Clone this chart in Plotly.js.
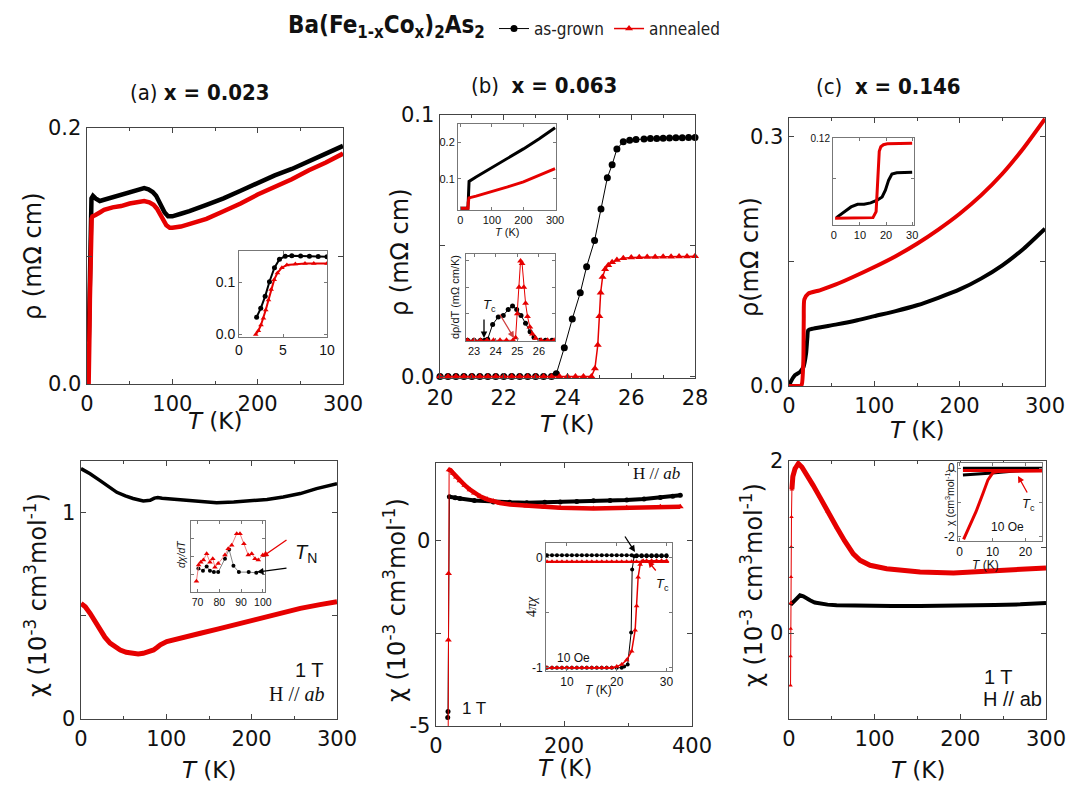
<!DOCTYPE html>
<html><head><meta charset="utf-8">
<script src="https://cdn.plot.ly/plotly-3.0.1.min.js"></script>
<style>html,body{margin:0;padding:0;background:#fff}#chart{width:1079px;height:788px}</style>
</head><body><div id="chart"></div>
<script>
// ---------- DATA ----------
// (a) x=0.023, resistivity
const T_a_rho_ag = [2.0,2.47,2.97,3.46,4.03,4.6,5.25,7,10,15,20,30,40,50,60,67,72,77,81,85,88,91,95,100,110,120,140,160,180,200,220,240,260,280,300];
const rho_a_ag   = [0.033,0.050,0.073,0.101,0.128,0.140,0.145,0.147,0.145,0.143,0.144,0.146,0.148,0.150,0.152,0.153,0.152,0.150,0.147,0.142,0.138,0.134,0.131,0.131,0.133,0.135,0.140,0.145,0.151,0.157,0.163,0.168,0.174,0.180,0.186];
const T_a_rho_an = [1.9,2.2,2.5,2.78,3.04,3.35,3.65,4.0,4.37,4.87,5.44,6.4,8.3,10,15,20,30,40,50,60,67,73,78,82,86,89,93,97,100,110,120,140,160,180,200,220,240,260,280,300];
const rho_a_an   = [0.0,0.007,0.018,0.031,0.047,0.066,0.086,0.105,0.118,0.126,0.129,0.131,0.132,0.132,0.134,0.136,0.138,0.139,0.141,0.142,0.143,0.142,0.140,0.137,0.132,0.128,0.124,0.122,0.122,0.123,0.125,0.129,0.135,0.141,0.148,0.154,0.160,0.167,0.173,0.180];
// (a) inset
const T_a_in_ag = [2.0,2.47,2.97,3.46,4.03,4.6,5.25,6.0,7.0,8.0,9.0,10.0];
const rho_a_in_ag = [0.033,0.050,0.073,0.101,0.128,0.144,0.150,0.151,0.1505,0.150,0.1495,0.149];
const T_a_in_an = [1.9,2.2,2.5,2.78,3.04,3.35,3.65,4.0,4.37,4.87,5.44,6.4,7.5,8.5,10.0];
const rho_a_in_an = [0.0,0.007,0.018,0.031,0.047,0.066,0.086,0.105,0.118,0.128,0.133,0.135,0.136,0.136,0.136];

// (b) x=0.063, resistivity near Tc
const T_b_rho_ag = [20.0,20.25,20.5,20.75,21.0,21.25,21.5,21.75,22.0,22.25,22.5,22.75,23.0,23.25,23.5,23.65,23.9,24.15,24.4,24.6,24.85,25.05,25.25,25.4,25.55,25.75,25.95,26.15,26.4,26.6,26.8,27.0,27.2,27.4,27.6,27.8,28.0];
const rho_b_ag   = [0,0,0,0,0,0,0,0,0,0,0,0,0,0,0,0.001,0.011,0.022,0.032,0.042,0.052,0.064,0.076,0.081,0.087,0.0898,0.0903,0.0906,0.0908,0.091,0.091,0.0911,0.0912,0.0913,0.0913,0.0914,0.0914];
const T_b_rho_an = [20.0,20.25,20.5,20.75,21.0,21.25,21.5,21.75,22.0,22.25,22.5,22.75,23.0,23.25,23.5,23.75,24.0,24.25,24.5,24.75,24.86,24.95,25.0,25.04,25.1,25.18,25.28,25.4,25.55,25.75,26.0,26.25,26.5,26.75,27.0,27.25,27.5,27.75,28.0];
const rho_b_an   = [0,0,0,0,0,0,0,0,0,0,0,0,0,0,0,0,0,0,0,0,0.003,0.012,0.023,0.032,0.038,0.041,0.0425,0.0437,0.0445,0.0452,0.0455,0.0456,0.0457,0.0457,0.0458,0.0458,0.0459,0.0459,0.046];
// (b) inset 1: full range
const T_b_in1_ag = [0,10,20,24,25,26,28,50,100,150,200,250,300];
const rho_b_in1_ag = [0.02,0.02,0.02,0.02,0.03,0.06,0.093,0.105,0.130,0.155,0.182,0.210,0.240];
const T_b_in1_an = [0,10,20,24,24.8,25.2,26,28,50,100,150,200,250,300];
const rho_b_in1_an = [0.02,0.02,0.02,0.02,0.02,0.035,0.046,0.048,0.053,0.065,0.078,0.092,0.110,0.128];
// (b) inset 2: drho/dT
const T_b_d_ag = [22.7,23.0,23.3,23.5,23.63,23.86,24.12,24.35,24.58,24.78,24.97,25.17,25.38,25.59,25.77,26.05,26.3,26.6];
const d_b_ag   = [0,0,0,0,0.002,0.030,0.044,0.047,0.058,0.065,0.058,0.047,0.032,0.016,0.006,0,0,0];
const T_b_d_an = [22.7,23.0,23.3,23.6,23.9,24.2,24.5,24.8,24.92,25.0,25.08,25.15,25.22,25.3,25.38,25.47,25.58,25.7,25.85,26.1,26.4,26.7];
const d_b_an   = [0,0,0,0,0,0,0,0,0.005,0.05,0.1,0.15,0.145,0.1,0.07,0.045,0.025,0.012,0.004,0,0,0];

// (c) x=0.146, resistivity
const T_c_rho_ag = [0,2,7,13,17,20,21.5,22.6,28.5,56,80,100,125,150,175,200,225,250,275,300];
const rho_c_ag   = [0,0.005,0.013,0.017,0.023,0.039,0.058,0.067,0.069,0.074,0.079,0.084,0.09,0.097,0.106,0.116,0.129,0.145,0.165,0.189];
const T_c_rho_an = [0,5,10,13,15,16.8,17.3,18,22.6,36,55,75,100,125,150,175,200,225,250,275,300];
const rho_c_an   = [0,0,0,0,0.002,0.03,0.08,0.104,0.111,0.115,0.122,0.131,0.143,0.156,0.171,0.188,0.207,0.229,0.255,0.286,0.321];
// (c) inset
const T_c_in_ag = [1,4.1,6.6,9.1,11.6,14.1,16.6,18.5,19.75,21,22.25,24.1,27,30];
const rho_c_in_ag = [0.001,0.01,0.017,0.021,0.021,0.023,0.027,0.032,0.042,0.057,0.066,0.068,0.069,0.069];
const T_c_in_an = [0.5,4,8,12,15,16.2,16.6,17.0,17.4,18.0,19,20.5,24,30];
const rho_c_in_an = [0,0,0,0,0.001,0.01,0.04,0.08,0.1,0.107,0.11,0.1115,0.112,0.112];

// (a) susceptibility, 1 T
const T_a_chi_ag = [0,5,10.6,22,32,42,52,61,73,81,86,90,95,100.5,120,140,159,179,198,218,237,257,276,300];
const chi_a_ag   = [1.215,1.205,1.19,1.158,1.13,1.10,1.083,1.07,1.058,1.061,1.072,1.075,1.071,1.069,1.061,1.053,1.05,1.053,1.058,1.065,1.077,1.094,1.118,1.142];
const T_a_chi_an = [0,5,10.6,16,22,28,34,40,46,53,61,67,73,79,85,89,93,100.5,110,120,140,160,179,200,218,240,257,280,300];
const chi_a_an   = [0.561,0.545,0.513,0.475,0.432,0.397,0.368,0.348,0.335,0.324,0.316,0.316,0.319,0.325,0.335,0.347,0.36,0.376,0.387,0.397,0.416,0.436,0.456,0.478,0.497,0.519,0.537,0.555,0.569];
// (a) inset dchi/dT
const T_a_dchi_an = [69.5,70.5,71.5,72.7,74.2,75.7,77,78,79.5,82.6,84.1,85.7,88,89.5,91.3,93.3,94.9,96.4,97.9,100];
const dchi_a_an   = [0.15,0.38,0.42,0.45,0.54,0.42,0.47,0.35,0.40,0.52,0.61,0.66,0.82,0.82,0.68,0.52,0.54,0.47,0.45,0.52];
const T_a_dchi_ag = [70.4,72.5,74.2,75.7,77.5,79.5,82.6,84.5,86.5,89,93.5,97];
const dchi_a_ag   = [0.33,0.30,0.36,0.30,0.28,0.28,0.47,0.60,0.37,0.28,0.28,0.27];

// (b) susceptibility, 1 T
const T_b_chi_ag = [18.3,18.8,20.9,30,37.5,60,89.7,115,141.9,170,194,220,246,272,298,325,350.5,370,381.7];
const chi_b_ag   = [-4.77,-4.61,1.19,1.16,1.14,1.09,1.05,1.04,1.03,1.04,1.05,1.06,1.08,1.09,1.10,1.13,1.17,1.2,1.23];
const T_b_chi_an = [19.0,19.3,19.6,20.5,23,27.1,32,37.5,45,53.2,60,68.8,80,89.7,100,115.8,141.9,170,194,246,298,350.5,381.7];
const chi_b_an   = [-5.4,-2.68,-0.88,1.92,1.9,1.82,1.72,1.62,1.5,1.38,1.29,1.2,1.12,1.07,1.02,0.98,0.94,0.91,0.89,0.87,0.89,0.92,0.92];
// (b) inset 4 pi chi, 10 Oe
const T_b_fc = [6,7,8,9,10,11,12,13,14,15,16,17,18,19,20,21,22,23,24,25,26,27,28,29,30];
const m_b_fc_ag = [0.02,0.02,0.02,0.02,0.02,0.02,0.02,0.02,0.02,0.02,0.02,0.02,0.02,0.02,0.02,0.02,0.02,0.02,0.02,0.02,0.02,0.02,0.02,0.02,0.02];
const m_b_fc_an = [-0.04,-0.04,-0.04,-0.04,-0.04,-0.04,-0.04,-0.04,-0.04,-0.04,-0.04,-0.04,-0.04,-0.04,-0.04,-0.04,-0.04,-0.04,-0.04,-0.04,-0.04,-0.04,-0.04,-0.04,-0.04];
const T_b_zfc_ag = [6,7,8,9,10,11,12,13,14,15,16,17,18,19,20,21,21.5,22.2,22.9,23.1,23.5,24,25,26,27,28,29,30];
const m_b_zfc_ag = [-1,-1,-1,-1,-1,-1,-1,-1,-1,-1,-1,-1,-1,-1,-1,-1,-0.99,-0.97,-0.68,-0.11,0.01,0.01,0.01,0.01,0.01,0.01,0.01,0.01];
const T_b_zfc_an = [6,7,8,9,10,11,12,13,14,15,16,17,18,19,20,21,22,23,23.7,24.0,24.3,24.7,25.3,26,27,28,29,30];
const m_b_zfc_an = [-1,-1,-1,-1,-1,-1,-1,-1,-1,-1,-1,-1,-1,-1,-0.99,-0.97,-0.93,-0.85,-0.66,-0.44,-0.18,-0.065,-0.03,-0.03,-0.03,-0.03,-0.03,-0.03];

// (c) susceptibility, 1 T
const T_c_chi_ag = [1,3.1,7,10,12.8,16.7,20,24.5,30,36,45,55.6,75,94.6,120,153,180,211,240,270,300];
const chi_c_ag   = [0.349,0.341,0.38,0.42,0.438,0.426,0.405,0.38,0.355,0.341,0.33,0.322,0.316,0.314,0.313,0.314,0.315,0.318,0.325,0.333,0.349];
const T_c_chi_an = [1.8,1.9,2.0,2.2,2.4,2.6,2.9,3.4,4.5,7,10.9,15,20.6,28,36,45,55.6,65,75,83,94.6,114,133,153,192,231,270,300];
const chi_c_an   = [-0.61,-0.27,0.05,0.35,0.65,1.0,1.35,1.67,1.82,1.91,1.97,1.93,1.85,1.72,1.58,1.41,1.23,1.07,0.92,0.845,0.787,0.748,0.725,0.709,0.698,0.717,0.736,0.756];
// (c) inset chi, 10 Oe
const T_c_m = [1,5,10,15,20,25];
const m_c_fc_ag  = [0.0,0.0,0.0,0.0,0.0,0.0];
const m_c_zfc_ag = [-0.2,-0.18,-0.14,-0.1,-0.05,-0.02];
const m_c_fc_an  = [-0.07,-0.07,-0.07,-0.07,-0.07,-0.07];
const T_c_zfc_an = [1.2,3.0,5.0,7.1,8.6,10.1,11.6,15,20,25];
const m_c_zfc_an = [-2.07,-1.70,-1.26,-0.73,-0.34,-0.13,-0.1,-0.09,-0.08,-0.08];

// ---------- STYLE ----------
const W = 1079, H = 788;
const BLK = '#000000', RED = '#e60000';
const SANS = 'DejaVu Sans, Liberation Sans, Arial, sans-serif';
const ARIAL = 'Liberation Sans, Arial, sans-serif';
const NARROW = 'Liberation Sans Narrow, DejaVu Sans Condensed, Arial Narrow, sans-serif';
const SERIF = 'Liberation Serif, DejaVu Serif, serif';

const layout = {
  width: W, height: H, margin: {l:0, r:0, t:0, b:0},
  paper_bgcolor: '#fff', plot_bgcolor: '#fff',
  showlegend: true,
  legend: {orientation:'h', x: 494/W, y: 1-11/H, xanchor:'left', yanchor:'top',
           font:{family:NARROW, size:17, color:'#222'}, bgcolor:'rgba(0,0,0,0)', itemwidth:30, tracegroupgap:0},
  annotations: [], shapes: []
};

function sfx(i){ return i===1 ? '' : String(i); }
function addAxes(i, box, xopt, yopt, main) {
  const base = {
    showline:true, mirror:'allticks', linecolor: main ? '#444' : '#777', linewidth: main ? 1.4 : 1,
    ticks:'inside', ticklen: main ? 5 : 3, tickwidth:1, tickcolor: main ? '#444' : '#777',
    showgrid:false, zeroline:false, fixedrange:true,
    tickfont:{family: main ? SANS : ARIAL, size: main ? 21 : 11, color:'#111'}
  };
  layout['xaxis'+sfx(i)] = Object.assign({}, base, {domain:[box[0]/W, box[1]/W], anchor:'y'+sfx(i)}, xopt);
  layout['yaxis'+sfx(i)] = Object.assign({}, base, {domain:[1-box[3]/H, 1-box[2]/H], anchor:'x'+sfx(i)}, yopt);
}
const minor50 = {ticks:'inside', ticklen:3, dtick:50, tick0:0, tickcolor:'#444'};
function mv(vals, main){ return {tickmode:'array', tickvals:vals, ticks:'inside', ticklen: main ? 5 : 3, tickcolor: main ? '#444' : '#777'}; }

// main panels: box = [left, right, top, bottom] px
addAxes(1, [87,343,128,384], {range:[0,300], dtick:100, tick0:0, minor:minor50},
        {range:[0,0.2], tickvals:[0,0.2], ticktext:['0.0','0.2'], minor:mv([0.1],true)}, true);
addAxes(2, [239,327,251,337], {range:[0,10], tickvals:[0,5,10], tickfont:{family:ARIAL,size:14,color:'#111'}},
        {range:[-0.005,0.16], tickvals:[0,0.1], ticktext:['0.0','0.1'], tickfont:{family:ARIAL,size:14,color:'#111'}}, false);
addAxes(3, [440,695,115,378], {range:[20,28], dtick:2, tick0:20, minor:{ticks:'inside', ticklen:3, dtick:1, tick0:20, tickcolor:'#444'}},
        {range:[-0.0006,0.1], tickvals:[0,0.1], ticktext:['0.0','0.1'], minor:mv([0.05],true)}, true);
addAxes(4, [458,556,124,210], {range:[-7,303], tickvals:[0,100,200,300]},
        {range:[0.015,0.25], tickvals:[0.1,0.2]}, false);
addAxes(5, [466,555,254,341], {range:[22.63,26.74], tickvals:[23,24,25,26]},
        {range:[-0.0013,0.163], tickvals:[0.05,0.1,0.15], showticklabels:false}, false);
addAxes(6, [789,1045,118,386], {range:[0,300], dtick:100, tick0:0, minor:minor50},
        {range:[0,0.322], tickvals:[0,0.3], ticktext:['0.0','0.3'], minor:mv([0.15],true)}, true);
addAxes(7, [833,914,138,225], {range:[-0.3,30.7], tickvals:[0,10,20,30]},
        {range:[-0.01,0.12], tickvals:[0.12], ticktext:['0.12'], minor:mv([0.06],false), tickfont:{family:ARIAL,size:10,color:'#111'}}, false);
addAxes(8, [81,337,461,719], {range:[0,300], dtick:100, tick0:0, minor:minor50},
        {range:[0,1.252], tickvals:[0,1], ticktext:['0','1'], minor:mv([0.5],true)}, true);
addAxes(9, [191,265,521,592], {range:[67,101], tickvals:[70,80,90,100], tickfont:{family:ARIAL,size:10.5,color:'#111'}},
        {range:[0,1], tickvals:[0.25,0.5,0.75], showticklabels:false}, false);
addAxes(10, [436,692,463,726], {range:[0,400], dtick:200, tick0:0, minor:{ticks:'inside', ticklen:3, dtick:100, tick0:0, tickcolor:'#444'}},
        {range:[-5,2.1], tickvals:[-5,0], ticktext:['-5','0'], minor:mv([-2.5],true)}, true);
addAxes(11, [546,672,543,671], {range:[5.8,31.1], tickvals:[10,20,30], tickfont:{family:ARIAL,size:12,color:'#111'}},
        {range:[-1.03,0.13], tickvals:[-1,0], ticktext:['-1','0'], minor:mv([-0.5],false), tickfont:{family:ARIAL,size:12,color:'#111'}}, false);
addAxes(12, [789,1046,461,719], {range:[0,300], dtick:100, tick0:0, minor:minor50},
        {range:[-1,2], tickvals:[0,2], ticktext:['0','2'], minor:mv([-1,1],true)}, true);
addAxes(13, [958,1042,463,541], {range:[-0.5,25], tickvals:[0,10,20], tickfont:{family:ARIAL,size:12,color:'#111'}},
        {range:[-2.12,0.15], tickvals:[-2,0], ticktext:['-2','0'], minor:mv([-1],false), tickfont:{family:ARIAL,size:12,color:'#111'}}, false);

// ---------- TRACES ----------
const traces = [];
function tr(i, x, y, opt){ traces.push(Object.assign({type:'scatter', x:x, y:y, xaxis:'x'+sfx(i), yaxis:'y'+sfx(i), showlegend:false, hoverinfo:'skip'}, opt)); }
const cM = (s)=>({symbol:'circle', size:s, color:BLK});
const tM = (s)=>({symbol:'triangle-up', size:s, color:RED});

// (a) rho
tr(1, T_a_rho_ag, rho_a_ag, {mode:'lines', line:{color:BLK, width:4.5}});
tr(1, T_a_rho_an, rho_a_an, {mode:'lines', line:{color:RED, width:4.5}});
tr(2, T_a_in_ag, rho_a_in_ag, {mode:'lines+markers', line:{color:BLK, width:2}, marker:cM(5)});
tr(2, T_a_in_an, rho_a_in_an, {mode:'lines+markers', line:{color:RED, width:2}, marker:tM(5)});
// (b) rho
tr(3, T_b_rho_ag, rho_b_ag, {mode:'lines+markers', name:'as-grown', showlegend:true, line:{color:BLK, width:1}, marker:cM(7), cliponaxis:false});
tr(3, T_b_rho_an, rho_b_an, {mode:'lines+markers', name:'annealed', showlegend:true, line:{color:RED, width:1.5}, marker:tM(7), cliponaxis:false});
tr(4, T_b_in1_ag, rho_b_in1_ag, {mode:'lines', line:{color:BLK, width:3}});
tr(4, T_b_in1_an, rho_b_in1_an, {mode:'lines', line:{color:RED, width:3}});
tr(5, T_b_d_ag, d_b_ag, {mode:'lines+markers', line:{color:BLK, width:1}, marker:cM(5)});
tr(5, T_b_d_an, d_b_an, {mode:'lines+markers', line:{color:RED, width:1}, marker:tM(6)});
// (c) rho
tr(6, T_c_rho_ag, rho_c_ag, {mode:'lines', line:{color:BLK, width:4, shape:'spline', smoothing:0.6}});
tr(6, T_c_rho_an, rho_c_an, {mode:'lines', line:{color:RED, width:4, shape:'spline', smoothing:0.6}});
tr(7, T_c_in_ag, rho_c_in_ag, {mode:'lines', line:{color:BLK, width:3}});
tr(7, T_c_in_an, rho_c_in_an, {mode:'lines', line:{color:RED, width:3}});
// (a) chi
tr(8, T_a_chi_ag, chi_a_ag, {mode:'lines', line:{color:BLK, width:3.5}});
tr(8, T_a_chi_an, chi_a_an, {mode:'lines', line:{color:RED, width:5}});
tr(9, T_a_dchi_ag, dchi_a_ag, {mode:'lines+markers', line:{color:'#666', width:0.8}, marker:cM(4)});
tr(9, T_a_dchi_an, dchi_a_an, {mode:'lines+markers', line:{color:'#f08080', width:1}, marker:tM(5)});
// (b) chi
tr(10, T_b_chi_ag, chi_b_ag, {mode:'lines+markers', line:{color:BLK, width:1}, marker:cM(5)});
tr(10, T_b_chi_ag.slice(2), chi_b_ag.slice(2), {mode:'lines', line:{color:BLK, width:4}});
tr(10, T_b_chi_an, chi_b_an, {mode:'lines+markers', line:{color:RED, width:1}, marker:tM(6)});
tr(10, T_b_chi_an.slice(3), chi_b_an.slice(3), {mode:'lines', line:{color:RED, width:4.5}});
tr(11, T_b_fc, m_b_fc_ag, {mode:'lines+markers', line:{color:BLK, width:1}, marker:cM(4)});
tr(11, T_b_zfc_ag, m_b_zfc_ag, {mode:'lines+markers', line:{color:BLK, width:1}, marker:cM(4)});
tr(11, T_b_fc, m_b_fc_an, {mode:'lines+markers', line:{color:RED, width:2}, marker:tM(5)});
tr(11, T_b_zfc_an, m_b_zfc_an, {mode:'lines+markers', line:{color:RED, width:1.5}, marker:tM(5)});
// (c) chi
tr(12, T_c_chi_ag, chi_c_ag, {mode:'lines', line:{color:BLK, width:4}});
tr(12, T_c_chi_an, chi_c_an, {mode:'lines+markers', line:{color:RED, width:1}, marker:tM(4)});
tr(12, T_c_chi_an.slice(7), chi_c_an.slice(7), {mode:'lines', line:{color:RED, width:5}});
tr(13, T_c_m, m_c_fc_ag, {mode:'lines', line:{color:BLK, width:3}});
tr(13, T_c_m, m_c_zfc_ag, {mode:'lines', line:{color:BLK, width:3}});
tr(13, T_c_m, m_c_fc_an, {mode:'lines', line:{color:RED, width:3}});
tr(13, T_c_zfc_an, m_c_zfc_an, {mode:'lines', line:{color:RED, width:3}});

// ---------- TEXT ----------
function ann(text, x, y, o){ layout.annotations.push(Object.assign({text:text, x:x/W, y:1-y/H, xref:'paper', yref:'paper', showarrow:false, xanchor:'center', yanchor:'middle', font:{family:SANS, size:23, color:'#111'}}, o||{})); }
function arrow(hx, hy, tx, ty, color){ layout.annotations.push({text:'', x:hx/W, y:1-hy/H, xref:'paper', yref:'paper', showarrow:true, ax:tx-hx, ay:ty-hy, arrowhead:2, arrowsize:1, arrowwidth:1.3, arrowcolor:color}); }

ann('<b>Ba(Fe<sub>1-x</sub>Co<sub>x</sub>)<sub>2</sub>As<sub>2</sub></b>', 487, 26, {xanchor:'right', font:{family:NARROW, size:24, color:'#111'}});
ann('(a) <b>x = 0.023</b>', 200, 92, {font:{family:NARROW, size:22, color:'#111'}});
ann('(b)  <b>x = 0.063</b>', 544, 85, {font:{family:NARROW, size:22, color:'#111'}});
ann('(c)  <b>x = 0.146</b>', 888, 87, {font:{family:NARROW, size:22, color:'#111'}});

const TK = '<i>T</i> (K)';
// main axis titles
ann('ρ (mΩ cm)', 33, 256, {textangle:-90, font:{family:SANS, size:24, color:'#111'}});
ann(TK, 215, 421);
ann('ρ (mΩ cm)', 400, 252, {textangle:-90, font:{family:SANS, size:24, color:'#111'}});
ann(TK, 567, 424);
ann('ρ(mΩ cm)', 750, 257, {textangle:-90, font:{family:SANS, size:24, color:'#111'}});
ann(TK, 917, 430);
const CHI = 'χ (10<sup>-3</sup> cm<sup>3</sup>mol<sup>-1</sup>)';
ann(CHI, 36, 595, {textangle:-90, font:{family:SANS, size:24, color:'#111'}});
ann(TK, 209, 770);
ann(CHI, 395, 600, {textangle:-90, font:{family:SANS, size:24, color:'#111'}});
ann(TK, 565, 768);
ann(CHI, 752, 585, {textangle:-90, font:{family:SANS, size:24, color:'#111'}});
ann(TK, 918, 770);

// inset titles
ann(TK, 507, 232, {font:{family:ARIAL, size:11, color:'#111'}});
ann('dρ/dT (mΩ cm/K)', 455, 297, {textangle:-90, font:{family:ARIAL, size:11, color:'#111'}});
ann('<i>dχ/dT</i>', 181, 554, {textangle:-90, font:{family:ARIAL, size:10.5, color:'#111'}});
ann('4<i>πχ</i>', 531, 607, {textangle:-90, font:{family:SERIF, size:14, color:'#111'}});
ann(TK, 598, 690, {font:{family:ARIAL, size:12, color:'#111'}});
ann('χ (cm<sup>3</sup>mol<sup>-1</sup>)', 949, 497, {textangle:-90, font:{family:ARIAL, size:10.5, color:'#111'}});
ann(TK, 985, 565, {font:{family:ARIAL, size:12, color:'#111'}});

// labels & arrows
ann('<i>T</i><sub>N</sub>', 306, 553, {font:{family:ARIAL, size:20, color:'#111'}});
arrow(262, 557, 288, 539, RED);
arrow(257, 572, 288, 568, BLK);
ann('<i>T</i><sub>c</sub>', 489, 305, {font:{family:ARIAL, size:13, color:'#111'}});
arrow(484, 338, 484, 318, BLK);
arrow(514, 338, 499, 313, '#d04040');
arrow(635, 552, 624, 535, BLK);
arrow(648, 561, 657, 572, RED);
ann('<i>T</i><sub>c</sub>', 662, 584, {font:{family:ARIAL, size:13, color:'#111'}});
ann('10 Oe', 573, 658, {font:{family:ARIAL, size:12, color:'#111'}});
arrow(1018, 476, 1028, 494, RED);
ann('<i>T</i><sub>c</sub>', 1028, 504, {font:{family:ARIAL, size:13, color:'#111'}});
ann('10 Oe', 1007, 527, {font:{family:ARIAL, size:12, color:'#111'}});

ann('1 T', 326, 670, {xanchor:'right', font:{family:ARIAL, size:20, color:'#111'}});
ann('H // <i>ab</i>', 327, 694, {xanchor:'right', font:{family:SERIF, size:20, color:'#111'}});
ann('H // <i>ab</i>', 682, 473, {xanchor:'right', font:{family:SERIF, size:17, color:'#111'}});
ann('1 T', 460, 708, {xanchor:'left', font:{family:ARIAL, size:17, color:'#111'}});
ann('1 T', 998, 677, {font:{family:ARIAL, size:20, color:'#111'}});
ann('H // ab', 1012, 699, {font:{family:ARIAL, size:20, color:'#111'}});

Plotly.newPlot('chart', traces, layout, {staticPlot:true, displayModeBar:false});
</script></body></html>
